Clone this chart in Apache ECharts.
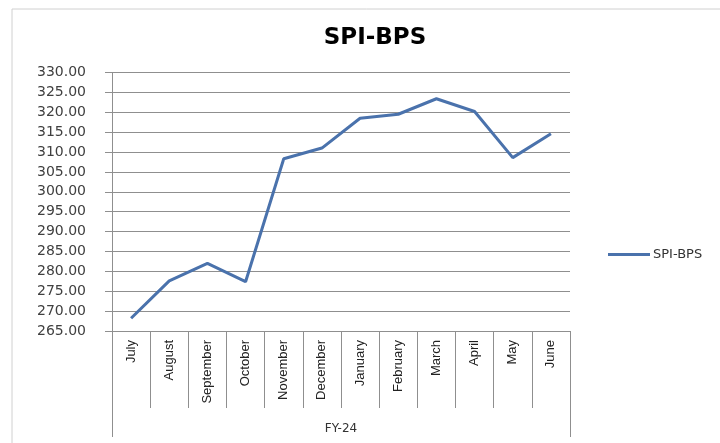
<!DOCTYPE html>
<html>
<head>
<meta charset="utf-8">
<script src="https://cdn.jsdelivr.net/npm/echarts@6/dist/echarts.min.js"></script>
<style>
html,body{margin:0;padding:0;background:#fff;}
#chart{width:720px;height:443px;}
</style>
</head>
<body>
<div id="chart"></div>
<script>
var months = ['July','August','September','October','November','December','January','February','March','April','May','June'];
var groupLabels = ['FY-24'];
var spiBps = [268.2, 277.6, 282.0, 277.4, 308.3, 311.0, 318.5, 319.5, 323.4, 320.2, 308.6, 314.6];
var seriesName = 'SPI-BPS';
var yMin = 265, yMax = 330, yStep = 5;

var chart = echarts.init(document.getElementById('chart'));
var gridColor = '#8f8f8f';
chart.setOption({
  animation: false,
  backgroundColor: '#fff',
  graphic: [{
    type: 'rect',
    shape: {x: 12, y: 9, width: 720, height: 440},
    style: {fill: 'none', stroke: '#d0d0d0', lineWidth: 1},
    silent: true
  }],
  title: {
    text: 'SPI-BPS',
    left: 370, top: 22,
    textAlign: 'center',
    textStyle: {fontFamily: 'DejaVu Sans', fontWeight: 'bold', fontSize: 23, color: '#000'}
  },
  legend: {
    data: [seriesName],
    left: 603, top: 243,
    icon: 'rect',
    itemWidth: 42, itemHeight: 3, itemGap: 2,
    textStyle: {fontFamily: 'DejaVu Sans', fontSize: 13, color: '#333', padding: [0,0,0,-2]}
  },
  grid: {left: 112, right: 150, top: 72.5, bottom: 112, containLabel: false},
  xAxis: [{
    type: 'category',
    data: months,
    boundaryGap: true,
    axisLine: {show: true, lineStyle: {color: gridColor, width: 1}},
    axisTick: {show: true, length: 77, lineStyle: {color: gridColor}},
    axisLabel: {rotate: 90, margin: 9, fontFamily: 'Liberation Sans Narrow, Liberation Sans', fontSize: 13, color: '#222'},
    splitLine: {show: false}
  }, {
    type: 'category',
    data: groupLabels,
    position: 'bottom',
    boundaryGap: true,
    axisLine: {show: false},
    axisTick: {show: true, length: 106, lineStyle: {color: gridColor}},
    axisLabel: {margin: 92, fontFamily: 'DejaVu Sans', fontSize: 12, color: '#333'}
  }],
  yAxis: {
    type: 'value',
    min: yMin, max: yMax, interval: yStep,
    axisLine: {show: true, lineStyle: {color: gridColor}},
    axisTick: {show: true, inside: false, length: 7, lineStyle: {color: gridColor}},
    axisLabel: {margin: 26, fontFamily: 'DejaVu Sans', fontSize: 14, color: '#404040',
      formatter: function(v){ return v.toFixed(2); }},
    splitLine: {show: true, lineStyle: {color: gridColor, width: 1}}
  },
  series: [{
    name: seriesName,
    type: 'line',
    xAxisIndex: 0,
    data: spiBps,
    symbol: 'none',
    lineStyle: {color: '#4A72AC', width: 3},
    itemStyle: {color: '#4A72AC'}
  }]
});
</script>
</body>
</html>
